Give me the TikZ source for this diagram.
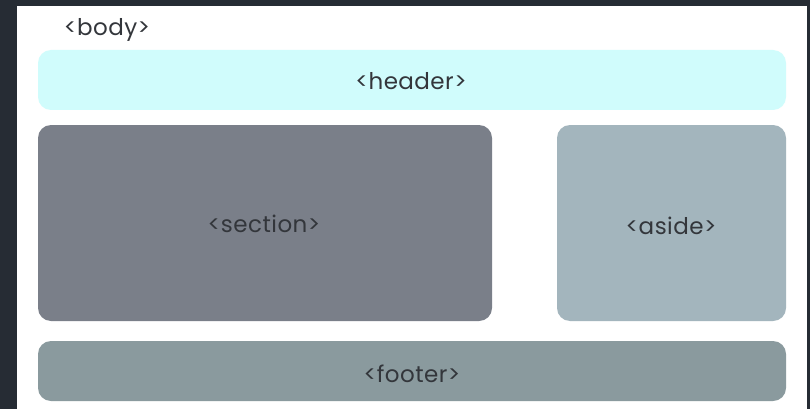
\documentclass[tikz,border=0pt]{standalone}
\usepackage{fontspec}
\setmainfont{Poppins}[LetterSpace=2]
\begin{document}
\begin{tikzpicture}[x=1pt,y=-1pt,
  box/.style={rounded corners=13pt},
  tag/.style={text=tagtext,font=\fontsize{23}{26}\selectfont,anchor=base,inner sep=0pt}]
\definecolor{pagebg}{HTML}{262C34}
\definecolor{tagtext}{HTML}{33363B}
\definecolor{headerfill}{HTML}{D0FCFC}
\definecolor{sectionfill}{HTML}{7A7F89}
\definecolor{asidefill}{HTML}{A3B5BD}
\definecolor{footerfill}{HTML}{8A9A9E}
% frame and page
\fill[pagebg] (0,0) rectangle (810,409);
\useasboundingbox (0,0) rectangle (810,409);
\fill[white] (17,6) rectangle (807,409);
% layout blocks
\fill[headerfill,box] (38,50) rectangle (786,110);
\fill[sectionfill,box] (38,125) rectangle (492,321);
\fill[asidefill,box] (557,125) rectangle (786,321);
\fill[footerfill,box] (38,341) rectangle (786,401);
% tag labels
\node[tag] (body) at (107,36) {<body>};
\node[tag] (header) at (411,90) {<header>};
\node[tag] (section) at (264,232) {<section>};
\node[tag] (aside) at (671,234) {<aside>};
\node[tag] (footer) at (412,382) {<footer>};
\end{tikzpicture}
\end{document}
